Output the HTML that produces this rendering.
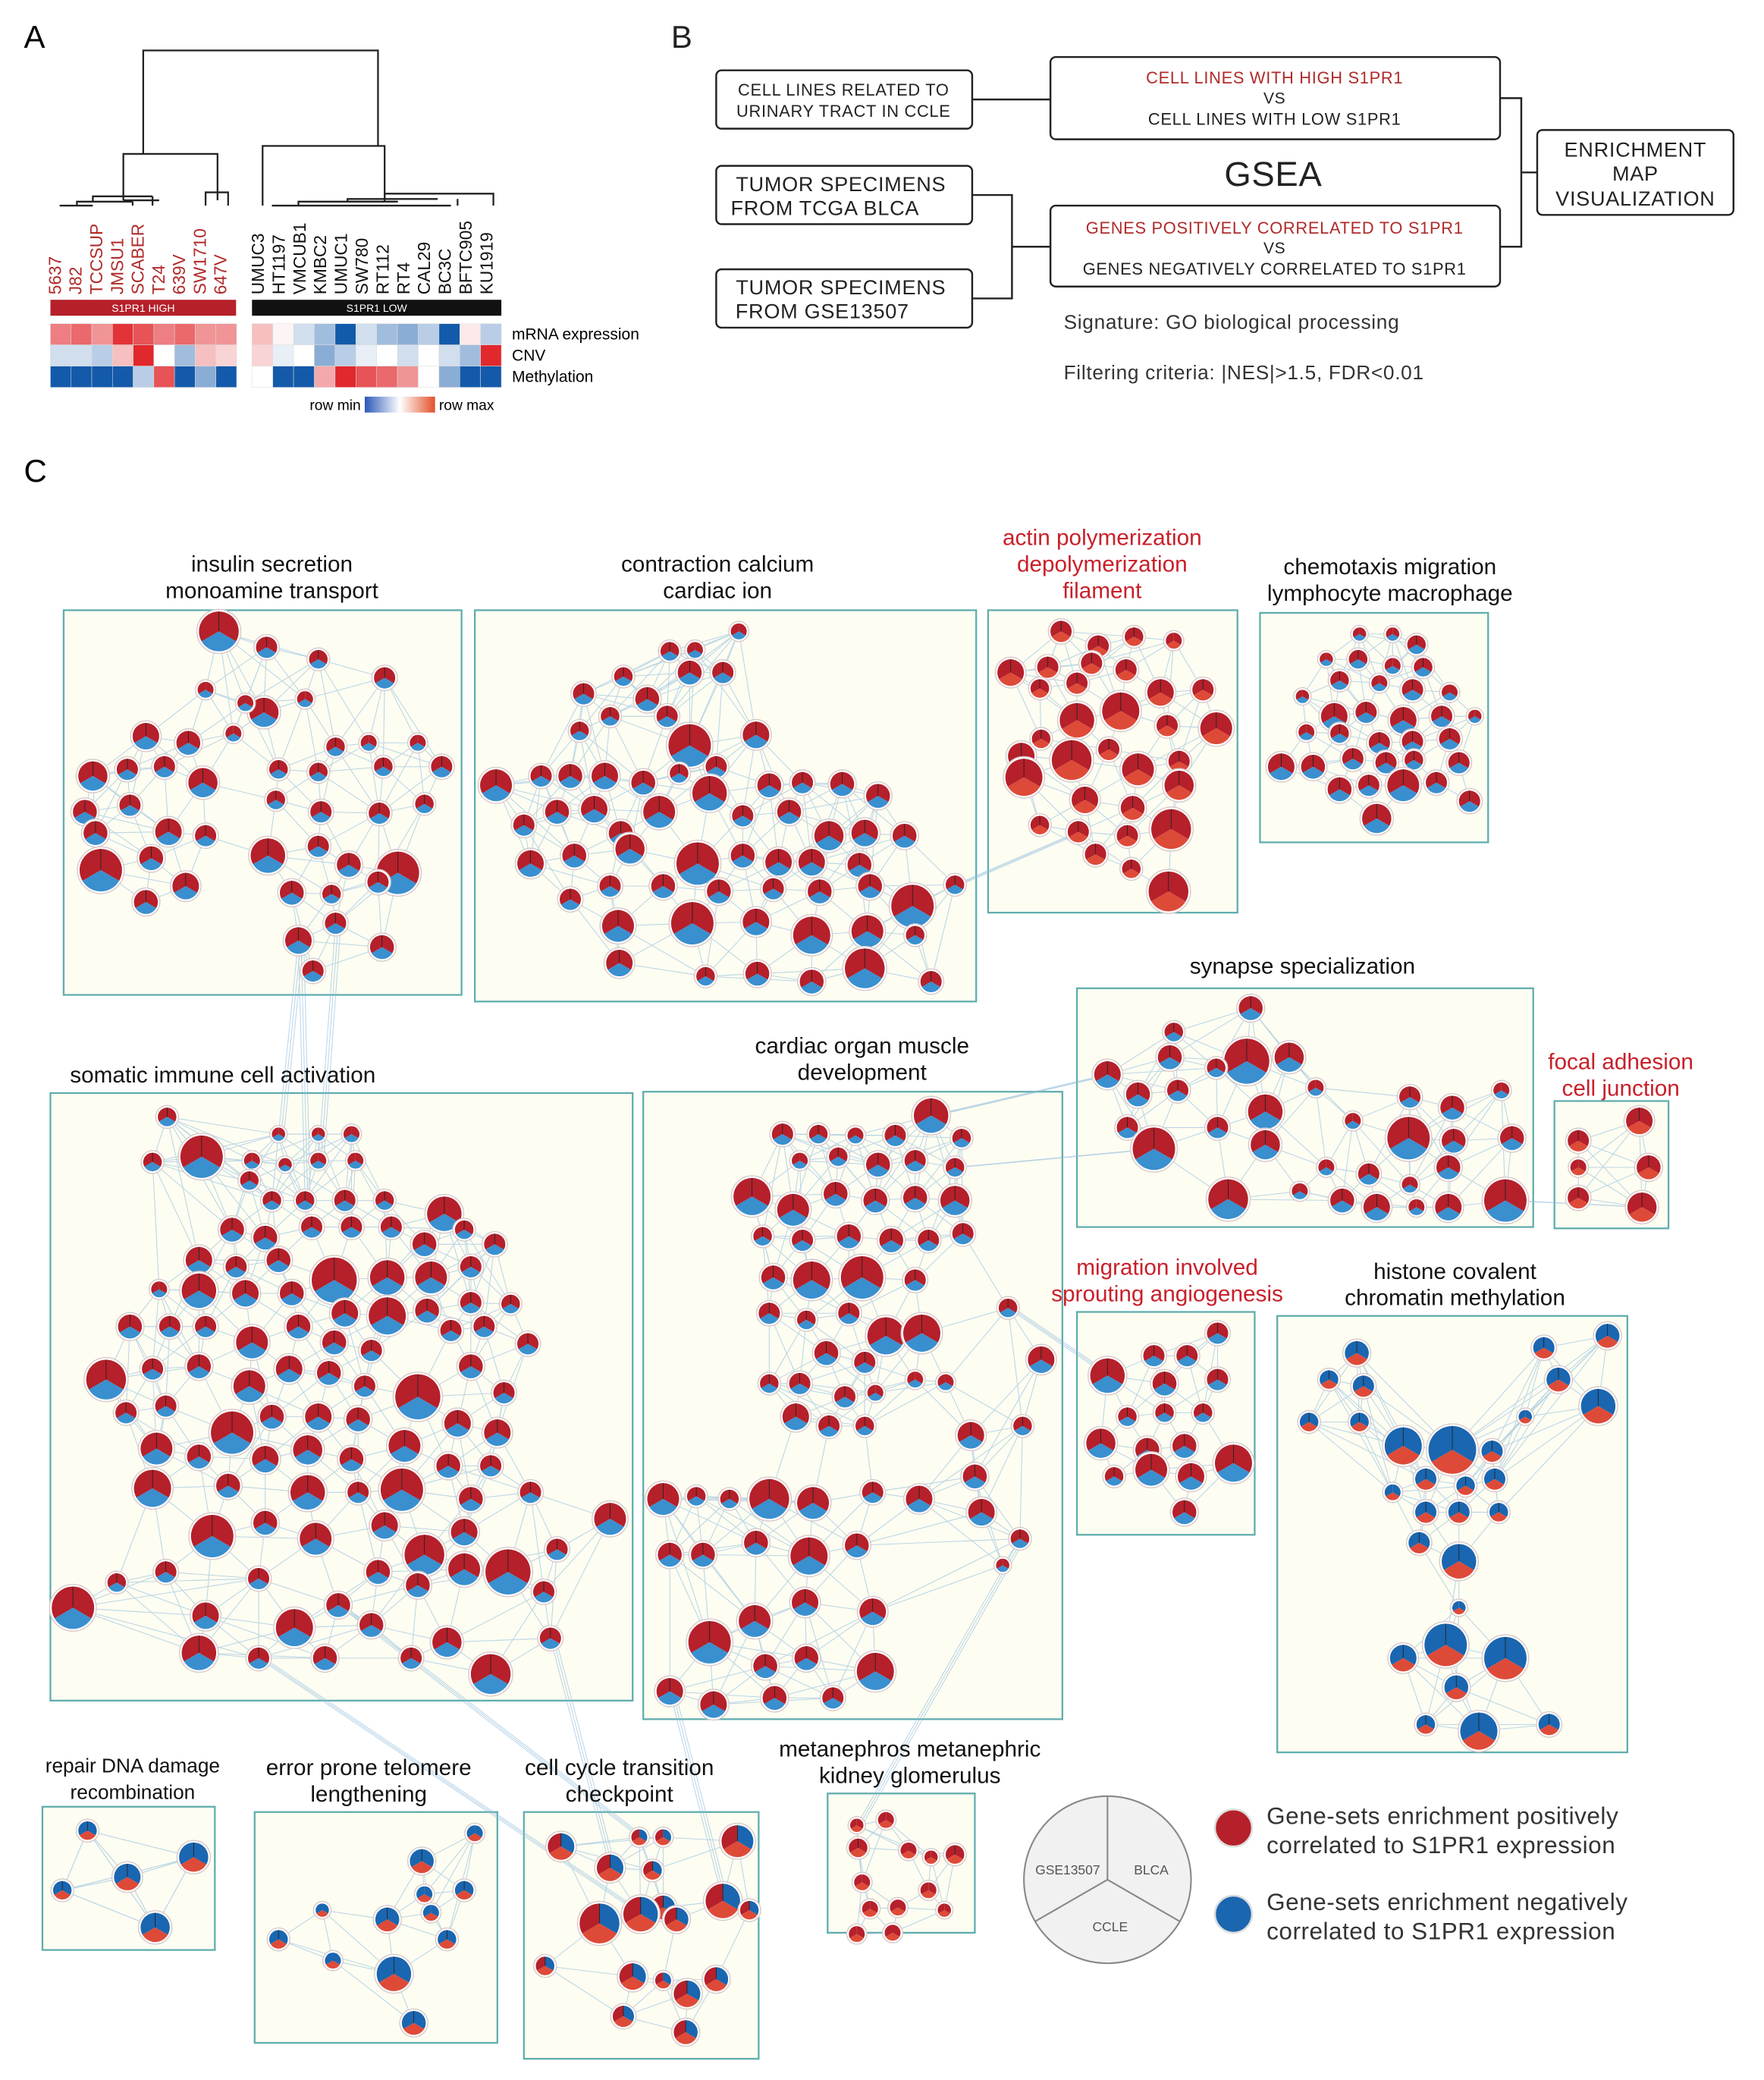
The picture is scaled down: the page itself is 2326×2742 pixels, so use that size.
<!DOCTYPE html>
<html><head><meta charset="utf-8">
<style>
html,body{margin:0;padding:0;background:#fff}
svg{display:block;font-family:"Liberation Sans",Arial,sans-serif}
</style></head>
<body>
<svg id="fig" width="2326" height="2742" viewBox="0 0 1330 1568" preserveAspectRatio="none" xmlns="http://www.w3.org/2000/svg">
<rect x="0" y="0" width="1330" height="1568" fill="#fff"/>
<g id="panelA">
<text x="18" y="36" font-size="24">A</text>
<g stroke="#222" stroke-width="1.3" fill="none">
<path d="M108 116 V38 H285 V110"/>
<path d="M93 151 V116 H164 V151"/>
<path d="M198 155 V110 H290 V152"/>
<path d="M45 155 H70 M58 155 V152 H100 M70 152 V148 H115 M100 152 V155 M115 148 V155 M93 151 H120"/>
<path d="M155 155 V145 H172 V155"/>
<path d="M205 155 H340 M225 155 V152 H300 M262 152 V150 H330 M290 150 V146 H372 V155 M345 150 V155"/>
</g>
<g id="cellLabels" font-size="13"></g>
<rect x="38" y="226" width="140" height="12" fill="#b5202a"/>
<text x="108" y="235" font-size="8" fill="#fff" text-anchor="middle">S1PR1 HIGH</text>
<rect x="190" y="226" width="188" height="12" fill="#111"/>
<text x="284" y="235" font-size="8" fill="#fff" text-anchor="middle">S1PR1 LOW</text>
<g id="heat"></g>
<text x="386" y="256" font-size="12">mRNA expression</text>
<text x="386" y="272" font-size="12">CNV</text>
<text x="386" y="288" font-size="12">Methylation</text>
<defs><linearGradient id="rg" x1="0" x2="1"><stop offset="0" stop-color="#2c58b8"/><stop offset="0.5" stop-color="#fff"/><stop offset="1" stop-color="#e2502a"/></linearGradient></defs>
<rect x="275" y="299" width="53" height="12" fill="url(#rg)"/>
<text x="272" y="309" font-size="11" text-anchor="end">row min</text>
<text x="331" y="309" font-size="11">row max</text>
</g>

<g id="panelB" font-size="13" fill="#222" letter-spacing="0.4">
<text x="506" y="36" font-size="24">B</text>
<g fill="none" stroke="#222" stroke-width="1.4">
<rect x="540" y="53" width="193" height="44" rx="4"/>
<rect x="792" y="43" width="339" height="62" rx="4"/>
<rect x="540" y="125" width="193" height="44" rx="4"/>
<rect x="540" y="203" width="193" height="44" rx="4"/>
<rect x="792" y="155" width="339" height="61" rx="4"/>
<rect x="1159" y="98" width="148" height="64" rx="4"/>
<path d="M733 75 H792 M733 147 H763 V225 H733 M763 186 H792 M1131 74 H1147 V186 H1131 M1147 130 H1159"/>
</g>
<text x="636" y="72" text-anchor="middle" font-size="12.5">CELL LINES RELATED TO</text>
<text x="636" y="88" text-anchor="middle" font-size="12.5">URINARY TRACT IN CCLE</text>
<text x="961" y="63" text-anchor="middle" fill="#b02a2a" font-size="12.5">CELL LINES WITH HIGH S1PR1</text>
<text x="961" y="78" text-anchor="middle" font-size="12">VS</text>
<text x="961" y="94" text-anchor="middle" font-size="12.5">CELL LINES WITH LOW S1PR1</text>
<text x="634" y="144" text-anchor="middle" font-size="15.5">TUMOR SPECIMENS</text>
<text x="622" y="162" text-anchor="middle" font-size="15.5">FROM TCGA BLCA</text>
<text x="634" y="222" text-anchor="middle" font-size="15.5">TUMOR SPECIMENS</text>
<text x="620" y="240" text-anchor="middle" font-size="15.5">FROM GSE13507</text>
<text x="961" y="176" text-anchor="middle" fill="#b02a2a" font-size="12.5">GENES POSITIVELY CORRELATED TO S1PR1</text>
<text x="961" y="191" text-anchor="middle" font-size="12">VS</text>
<text x="961" y="207" text-anchor="middle" font-size="12.5">GENES NEGATIVELY CORRELATED TO S1PR1</text>
<text x="1233" y="118" text-anchor="middle" font-size="15.5">ENRICHMENT</text>
<text x="1233" y="136" text-anchor="middle" font-size="15.5">MAP</text>
<text x="1233" y="155" text-anchor="middle" font-size="15.5">VISUALIZATION</text>
<text x="960" y="140" text-anchor="middle" font-size="26">GSEA</text>
<text x="802" y="248" font-size="15" fill="#333">Signature: GO biological processing</text>
<text x="802" y="286" font-size="15" fill="#333">Filtering criteria: |NES|&gt;1.5, FDR&lt;0.01</text>
</g>

<text x="18" y="363" font-size="24">C</text>
<g id="boxes"></g>
<g id="edges" stroke="#8fbbdc" stroke-width="0.6" opacity="0.6" fill="none"></g>
<g id="nodes"></g>
<g id="titles" font-size="17" text-anchor="middle"></g>

<g>
<circle cx="835" cy="1417" r="63" fill="#f1f1f1" stroke="#888" stroke-width="1.2"/>
<path d="M835 1354 V1417 L889.6 1448.5 M835 1417 L780.4 1448.5" stroke="#888" stroke-width="1.2" fill="none"/>
<text x="805" y="1413" font-size="10" fill="#555" text-anchor="middle">GSE13507</text>
<text x="868" y="1413" font-size="10" fill="#555" text-anchor="middle">BLCA</text>
<text x="837" y="1456" font-size="10" fill="#555" text-anchor="middle">CCLE</text>
</g>
<g font-size="18" fill="#333" letter-spacing="0.3">
<circle cx="930" cy="1378" r="14" fill="#b5202a" stroke="#ddd" stroke-width="1.5"/>
<text x="955" y="1375">Gene-sets enrichment positively</text>
<text x="955" y="1397">correlated to S1PR1 expression</text>
<circle cx="930" cy="1443" r="14" fill="#1a66b0" stroke="#ddd" stroke-width="1.5"/>
<text x="955" y="1440">Gene-sets enrichment negatively</text>
<text x="955" y="1462">correlated to S1PR1 expression</text>
</g>
</svg>
<script>
const NS="http://www.w3.org/2000/svg";
const highLines=["5637","J82","TCCSUP","JMSU1","SCABER","T24","639V","SW1710","647V"];
const lowLines=["UMUC3","HT1197","VMCUB1","KMBC2","UMUC1","SW780","RT112","RT4","CAL29","BC3C","BFTC905","KU1919"];
const heatHighMrna=[0.6,0.7,0.5,0.95,0.8,0.6,0.7,0.5,0.5];
const heatHighCnv=[-0.2,-0.2,-0.3,0.3,1.0,0,-0.4,0.3,0.2];
const heatHighMeth=[-1,-1,-1,-1,-0.3,0.8,-1,-0.5,-1];
const heatLowMrna=[0.3,0.05,-0.2,-0.4,-1,-0.2,-0.4,-0.5,-0.3,-1,0.1,-0.3];
const heatLowCnv=[0.2,-0.1,0.0,-0.5,-0.3,-0.1,0.0,-0.2,0.0,-0.2,-0.4,1.0];
const heatLowMeth=[0,-1,-1,0.4,1.0,0.8,0.7,0.5,0,-0.5,-1,-1];

function mk(tag,attrs,parent){const e=document.createElementNS(NS,tag);for(const k in attrs)e.setAttribute(k,attrs[k]);parent.appendChild(e);return e;}
function heatColor(v){const t=Math.min(1,Math.abs(v));
 if(v>=0){return `rgb(${255-Math.round(30*t)},${Math.round(255-215*t)},${Math.round(255-210*t)})`;}
 return `rgb(${Math.round(255-235*t)},${Math.round(255-165*t)},${Math.round(255-85*t)})`;}

const lab=document.getElementById('cellLabels');
const hstep=15.6, lstep=188/12;
highLines.forEach((s,i)=>{const x=46+i*hstep;const t=mk('text',{x:x,y:222,transform:`rotate(-90 ${x} 222)`,fill:'#b02a2a'},lab);t.textContent=s;

});
lowLines.forEach((s,i)=>{const x=199+i*lstep;const t=mk('text',{x:x,y:222,transform:`rotate(-90 ${x} 222)`,fill:'#111'},lab);t.textContent=s;

});
const heat=document.getElementById('heat');
[[heatHighMrna,heatLowMrna,244],[heatHighCnv,heatLowCnv,260],[heatHighMeth,heatLowMeth,276]].forEach(([h,l,y])=>{
 h.forEach((v,i)=>{const r=mk('rect',{x:38+i*hstep,y:y,width:hstep,height:16,fill:heatColor(v),stroke:'#ddd','stroke-width':0.3},heat);
 
 });
 const w=188/l.length;
 l.forEach((v,i)=>{const r=mk('rect',{x:190+i*w,y:y,width:w,height:16,fill:heatColor(v),stroke:'#ddd','stroke-width':0.3},heat);
 
 });
});

const clusterNames=["insulin","contraction","actin","chemotaxis","synapse","focal","somatic","cardiac","migration","histone","repair","error","cellcycle","metanephros"];
const clusterBoxes=[[48,460,300,290],[358,460,378,295],[745,460,188,228],[950,462,172,173],[812,745,344,180],[1172,830,86,96],[38,824,439,458],[485,823,316,473],[812,989,134,168],[963,992,264,329],[32,1362,130,108],[192,1366,183,174],[395,1366,177,186],[624,1352,111,105]];
const clusterTitles=[
 [["insulin secretion","monoamine transport"],205,431,"#111",17],
 [["contraction calcium","cardiac ion"],541,431,"#111",17],
 [["actin polymerization","depolymerization","filament"],831,411,"#c8202a",17],
 [["chemotaxis migration","lymphocyte macrophage"],1048,433,"#111",17],
 [["synapse specialization"],982,734,"#111",17],
 [["focal adhesion","cell  junction"],1222,806,"#c8202a",17],
 [["somatic immune cell activation"],168,816,"#111",17],
 [["cardiac organ muscle","development"],650,794,"#111",17],
 [["migration involved","sprouting angiogenesis"],880,961,"#c8202a",17],
 [["histone covalent","chromatin methylation"],1097,964,"#111",17],
 [["repair DNA  damage","recombination"],100,1336,"#111",15],
 [["error prone telomere","lengthening"],278,1338,"#111",17],
 [["cell cycle transition","checkpoint"],467,1338,"#111",17],
 [["metanephros metanephric","kidney glomerulus"],686,1324,"#111",17]];
const clusterTypes=["rrb","rrb","rrR","rrb","rrb","rrR","rrb","rrb","rrb","bbr","bbr","bbr","rbr","rrR"];

const insulinNodes=[[165,476,15],[201,488,8],[240,497,7],[290,511,8],[155,520,6],[199,537,11],[230,527,6],[185,530,6],[110,555,10],[142,560,9],[176,553,6],[253,563,7],[278,560,6],[315,560,6],[333,578,8],[70,585,11],[96,580,8],[124,578,8],[153,590,11],[210,580,7],[240,582,7],[289,578,7],[64,612,9],[98,607,8],[208,603,7],[242,612,8],[286,613,8],[320,606,7],[72,628,9],[127,627,10],[155,630,8],[240,638,8],[76,656,16],[114,647,9],[202,645,13],[263,652,9],[300,658,16],[140,668,10],[220,673,9],[250,674,7],[285,665,8],[110,680,9],[225,709,10],[253,696,8],[288,714,9],[236,732,8]];
const contractionNodes=[[557,476,6],[505,491,7],[524,490,6],[520,507,9],[545,507,8],[440,523,8],[470,510,7],[488,527,9],[460,540,7],[503,540,8],[437,551,7],[520,562,16],[570,554,10],[540,578,8],[374,592,12],[408,585,8],[430,585,9],[456,585,10],[485,590,9],[512,583,7],[535,598,13],[580,592,9],[605,590,8],[635,591,9],[662,600,9],[395,622,8],[420,612,9],[448,610,10],[468,628,9],[497,612,12],[560,615,8],[595,612,9],[625,630,11],[652,628,10],[682,630,9],[400,651,10],[433,645,9],[475,640,11],[526,651,16],[560,645,9],[587,650,10],[612,650,10],[648,652,9],[688,683,16],[720,667,7],[430,678,8],[460,668,8],[500,668,9],[542,672,9],[583,670,8],[618,672,9],[656,668,9],[466,698,12],[522,696,16],[570,695,10],[612,705,14],[654,702,12],[690,705,7],[467,726,10],[532,736,7],[571,734,9],[612,740,9],[652,730,15],[702,740,8]];
const actinNodes=[[800,476,8],[828,487,8],[855,480,7],[885,483,6],[762,507,10],[790,503,8],[823,500,8],[849,505,8],[784,519,7],[812,515,8],[875,522,10],[907,520,8],[812,543,13],[845,536,14],[880,547,8],[917,549,12],[770,570,10],[785,557,7],[808,573,15],[858,580,12],[889,574,8],[836,565,8],[772,586,14],[818,603,10],[854,609,9],[889,592,11],[813,627,8],[850,630,8],[883,625,15],[784,622,7],[826,644,8],[853,655,7],[881,672,15]];
const chemotaxisNodes=[[1025,478,5],[1050,478,5],[1068,486,7],[1000,497,5],[1024,497,7],[1050,502,6],[1073,503,7],[1010,513,7],[1040,515,6],[1065,520,8],[1093,522,6],[982,525,5],[1006,540,10],[1030,537,8],[1058,543,10],[1087,540,8],[1112,540,5],[985,552,6],[1010,553,7],[1040,560,8],[1065,559,8],[1093,557,8],[966,578,10],[990,578,9],[1020,572,8],[1045,575,8],[1066,573,7],[1100,575,8],[1010,595,9],[1032,592,8],[1058,592,12],[1083,590,8],[1108,604,8],[1038,617,11]];
const synapseNodes=[[943,760,9],[885,778,7],[835,810,10],[882,797,9],[940,800,17],[972,797,11],[917,805,7],[858,825,9],[888,822,8],[954,838,13],[992,820,6],[850,850,8],[918,850,8],[954,863,11],[1063,827,8],[1095,835,9],[1132,822,6],[1020,845,6],[1062,858,16],[1096,860,9],[1140,858,9],[870,866,16],[1000,880,6],[1032,885,8],[1063,893,6],[1092,880,9],[926,904,15],[980,898,6],[1012,905,9],[1038,910,10],[1068,910,6],[1092,910,10],[1135,905,16]];
const focalNodes=[[1236,845,10],[1190,860,8],[1190,880,6],[1243,880,9],[1190,903,8],[1238,910,11]];
const somaticNodes=[[126,842,7],[152,872,16],[115,876,7],[210,855,5],[240,855,5],[265,855,6],[190,875,6],[215,878,5],[240,875,6],[268,875,6],[188,890,7],[205,905,7],[230,905,7],[260,905,8],[290,905,7],[335,915,13],[175,927,9],[200,933,9],[235,925,8],[265,925,8],[295,925,8],[320,938,9],[350,927,7],[373,938,8],[150,950,10],[178,955,8],[210,950,9],[252,965,17],[292,963,13],[325,963,12],[355,955,8],[120,972,6],[150,973,13],[185,975,10],[220,975,9],[260,990,10],[292,992,14],[322,988,9],[355,982,8],[385,983,7],[98,1000,9],[128,1000,8],[155,1000,8],[190,1012,12],[225,1000,9],[252,1012,9],[280,1018,8],[340,1003,8],[365,1000,8],[398,1013,8],[80,1040,15],[115,1032,8],[150,1030,9],[188,1045,12],[218,1032,10],[248,1035,9],[275,1045,8],[315,1053,17],[355,1030,9],[380,1050,8],[95,1065,8],[125,1060,8],[175,1080,16],[205,1068,9],[240,1068,10],[270,1070,9],[305,1090,12],[345,1073,10],[375,1080,10],[118,1092,12],[150,1098,9],[200,1100,10],[232,1093,11],[265,1100,9],[338,1105,9],[370,1105,8],[115,1122,14],[172,1120,9],[232,1125,13],[270,1125,8],[303,1123,16],[355,1130,9],[400,1125,8],[160,1158,16],[200,1148,9],[238,1160,12],[290,1150,10],[320,1172,15],[350,1155,10],[383,1185,17],[420,1168,8],[460,1145,12],[55,1212,16],[88,1193,7],[125,1185,8],[155,1218,10],[195,1190,8],[222,1227,14],[255,1210,9],[285,1185,9],[315,1195,9],[350,1183,12],[410,1200,8],[150,1246,13],[195,1250,8],[245,1250,9],[280,1225,9],[310,1250,8],[337,1238,11],[370,1262,15],[415,1235,8]];
const cardiacNodes=[[702,841,13],[590,855,8],[617,855,7],[645,856,6],[675,856,8],[725,858,7],[603,875,6],[632,872,7],[662,878,9],[690,875,8],[720,880,7],[567,902,14],[598,912,12],[630,900,9],[660,905,9],[690,903,9],[720,905,11],[575,932,7],[605,935,8],[640,932,9],[672,935,9],[700,935,8],[726,930,8],[583,963,9],[612,965,14],[650,963,16],[690,965,8],[580,990,8],[608,995,7],[640,990,8],[668,1007,14],[695,1005,14],[623,1020,9],[652,1027,8],[690,1040,6],[713,1042,6],[760,986,7],[785,1025,10],[580,1043,7],[603,1043,8],[637,1053,8],[660,1050,6],[600,1068,10],[625,1075,8],[652,1075,7],[732,1082,10],[771,1075,7],[500,1130,12],[525,1128,7],[550,1130,7],[580,1130,15],[613,1133,12],[658,1125,8],[693,1130,10],[735,1113,9],[740,1140,10],[769,1160,7],[505,1172,9],[530,1172,9],[570,1163,9],[610,1173,14],[646,1165,9],[756,1180,5],[535,1238,16],[569,1222,12],[607,1208,10],[658,1215,10],[577,1256,9],[608,1250,9],[660,1260,14],[505,1275,10],[538,1285,10],[584,1280,9],[628,1280,8]];
const migrationNodes=[[918,1005,8],[870,1022,8],[895,1022,8],[835,1037,13],[878,1043,9],[918,1040,8],[850,1068,7],[878,1065,7],[907,1065,7],[830,1088,11],[865,1093,9],[893,1090,9],[930,1103,14],[840,1113,7],[868,1108,12],[898,1113,10],[893,1140,9]];
const histoneNodes=[[1023,1020,9],[1164,1016,8],[1212,1007,9],[1002,1040,7],[1028,1045,8],[1175,1040,9],[1205,1060,13],[987,1072,7],[1025,1072,7],[1150,1068,5],[1058,1090,14],[1095,1093,18],[1125,1094,8],[1050,1125,6],[1075,1115,8],[1105,1120,7],[1127,1115,8],[1075,1140,8],[1100,1140,8],[1130,1140,7],[1070,1163,8],[1100,1177,13],[1100,1212,5],[1058,1250,10],[1090,1240,16],[1135,1250,16],[1098,1272,9],[1075,1300,7],[1115,1305,14],[1168,1300,8]];
const repairNodes=[[66,1380,7],[146,1400,11],[96,1415,10],[47,1425,7],[117,1453,11]];
const errorNodes=[[358,1382,6],[318,1403,9],[320,1428,6],[350,1425,7],[243,1440,5],[292,1447,9],[325,1442,6],[210,1462,7],[337,1462,7],[251,1478,6],[297,1488,13],[312,1525,9]];
const cellcycleNodes=[[423,1392,10],[482,1385,6],[500,1385,6],[556,1388,12],[460,1408,10],[492,1410,7],[500,1438,9],[545,1433,13],[452,1450,15],[483,1443,13],[510,1447,9],[565,1440,7],[411,1482,7],[477,1490,10],[500,1493,6],[518,1503,10],[540,1492,9],[470,1520,8],[517,1532,9]];
const metanephrosNodes=[[646,1376,5],[668,1372,6],[647,1393,7],[685,1395,6],[702,1400,5],[720,1398,7],[650,1419,6],[700,1425,6],[656,1439,6],[677,1438,6],[712,1440,5],[646,1458,6],[673,1457,6]];
const allNodes=[insulinNodes,contractionNodes,actinNodes,chemotaxisNodes,synapseNodes,focalNodes,somaticNodes,cardiacNodes,migrationNodes,histoneNodes,repairNodes,errorNodes,cellcycleNodes,metanephrosNodes];
const interLinks=[[0,42,6,3],[0,43,6,8],[0,42,6,12],[6,110,12,4],[6,104,12,9],[6,98,12,1],[7,70,12,7],[1,44,2,26],[7,0,4,2],[7,10,4,21],[4,32,5,5],[7,36,8,3],[7,56,13,0]];

const RED="#b5202a",BLUE="#1a66b0",LBLUE="#3a8fcf",LRED="#de4a38";
const boxG=document.getElementById('boxes'),edgeG=document.getElementById('edges'),nodeG=document.getElementById('nodes'),titleG=document.getElementById('titles');
clusterBoxes.forEach((b,i)=>{const r=mk('rect',{x:b[0],y:b[1],width:b[2],height:b[3],fill:'#fdfdf2',stroke:'#5fadad','stroke-width':1.3},boxG);

});
clusterTitles.forEach((t,i)=>{const [lines,cx,y,col,fs]=t;
 lines.forEach((s,j)=>{const tx=mk('text',{x:cx,y:y+j*20,fill:col,'font-size':fs},titleG);tx.textContent=s;
 
 });});
allNodes.forEach(list=>{const K=list.length>60?9:list.length>25?7:5;
 list.forEach((a,i)=>{
 const d=list.map((b,j)=>[j,(a[0]-b[0])**2+(a[1]-b[1])**2]).filter(p=>p[0]!==i).sort((p,q)=>p[1]-q[1]);
 d.slice(0,K).forEach(p=>{if(p[0]>i||d.length<K){const b=list[p[0]];const l=mk('line',{x1:a[0],y1:a[1],x2:b[0],y2:b[1]},edgeG);
 
 }});});});
interLinks.forEach(([c1,n1,c2,n2])=>{const a=allNodes[c1][n1],b=allNodes[c2][n2];if(!a||!b)return;
 for(let k=0;k<3;k++){const l=mk('line',{x1:a[0]+k*2,y1:a[1],x2:b[0]+k*2,y2:b[1]},edgeG);
 
 }});
function wedge(g,cx,cy,r,a0,a1,col){const p=a=>[cx+r*Math.cos(a*Math.PI/180),cy+r*Math.sin(a*Math.PI/180)];
 const [x0,y0]=p(a0),[x1,y1]=p(a1);mk('path',{d:`M${cx} ${cy} L${x0} ${y0} A${r} ${r} 0 0 1 ${x1} ${y1} Z`,fill:col},g);}
allNodes.forEach((list,ci)=>{const t=clusterTypes[ci];
 list.forEach(n=>{const [x,y,r]=n;const g=mk('g',{},nodeG);
 
 
 mk('circle',{cx:x,cy:y,r:r+1.6,fill:'#fff',stroke:'#d9c9cc','stroke-width':0.8},g);
 const cl=c=>c==='r'?RED:c==='b'?BLUE:c==='R'?LRED:RED;
 const bottom=t[2]==='b'?LBLUE:LRED;
 wedge(g,x,y,r,150,270,cl(t[0]));
 wedge(g,x,y,r,270,390,cl(t[1]));
 wedge(g,x,y,r,30,150,bottom);
 if(r>6)mk('path',{d:`M${x} ${y-r} V${y}`,stroke:'#222','stroke-width':0.5},g);
 });});
</script>
</body></html>
